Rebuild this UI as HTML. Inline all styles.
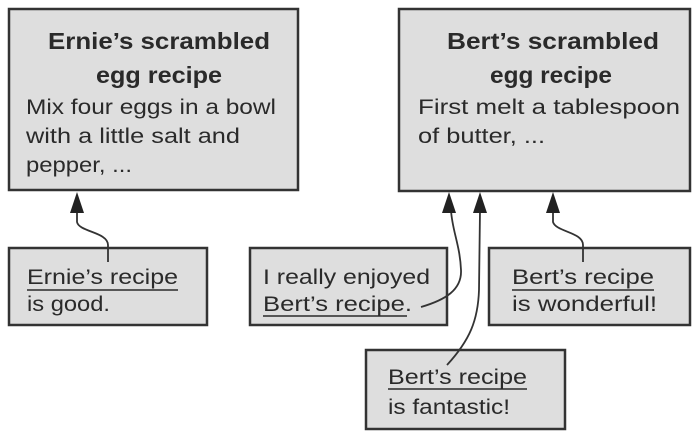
<!DOCTYPE html>
<html><head><meta charset="utf-8"><style>
html,body{margin:0;padding:0;background:#fff;}
svg{display:block;}
text{font-family:"Liberation Sans",sans-serif;fill:#2a2a2a;}
.t{font-weight:bold;font-size:23px;}
.b{font-size:21px;}
</style></head><body>
<svg width="698" height="440" viewBox="0 0 698 440">
<g fill="#dedede" stroke="#333" stroke-width="2.5">
<rect x="9" y="9" width="289" height="181"/>
<rect x="399" y="9" width="291" height="182"/>
<rect x="9" y="248" width="198" height="77"/>
<rect x="250" y="248" width="197" height="77"/>
<rect x="489" y="248" width="201" height="77"/>
<rect x="366" y="350" width="199" height="79"/>
</g>
<text class="t" x="48" y="49" textLength="222" lengthAdjust="spacingAndGlyphs">Ernie’s scrambled</text>
<text class="t" x="96" y="83" textLength="126" lengthAdjust="spacingAndGlyphs">egg recipe</text>
<text class="b" x="26" y="114" textLength="250" lengthAdjust="spacingAndGlyphs">Mix four eggs in a bowl</text>
<text class="b" x="26" y="143" textLength="214" lengthAdjust="spacingAndGlyphs">with a little salt and</text>
<text class="b" x="26" y="172" textLength="106" lengthAdjust="spacingAndGlyphs">pepper, ...</text>
<text class="t" x="447" y="49" textLength="212" lengthAdjust="spacingAndGlyphs">Bert’s scrambled</text>
<text class="t" x="490" y="83" textLength="122" lengthAdjust="spacingAndGlyphs">egg recipe</text>
<text class="b" x="418" y="114" textLength="262" lengthAdjust="spacingAndGlyphs">First melt a tablespoon</text>
<text class="b" x="418" y="143" textLength="127" lengthAdjust="spacingAndGlyphs">of butter, ...</text>

<text class="b" x="27" y="284" textLength="151" lengthAdjust="spacingAndGlyphs">Ernie’s recipe</text>
<text class="b" x="27" y="311" textLength="83" lengthAdjust="spacingAndGlyphs">is good.</text>
<text class="b" x="263" y="284" textLength="167" lengthAdjust="spacingAndGlyphs">I really enjoyed</text>
<text class="b" x="263" y="311" textLength="149" lengthAdjust="spacingAndGlyphs">Bert’s recipe.</text>
<text class="b" x="512" y="284" textLength="142" lengthAdjust="spacingAndGlyphs">Bert’s recipe</text>
<text class="b" x="512" y="311" textLength="145" lengthAdjust="spacingAndGlyphs">is wonderful!</text>
<text class="b" x="388" y="384" textLength="139" lengthAdjust="spacingAndGlyphs">Bert’s recipe</text>
<text class="b" x="388" y="414" textLength="122" lengthAdjust="spacingAndGlyphs">is fantastic!</text>

<g stroke="#2a2a2a" stroke-width="1.6">
<line x1="27" y1="290" x2="178" y2="290"/>
<line x1="263" y1="316" x2="407" y2="316"/>
<line x1="512" y1="290" x2="654" y2="290"/>
<line x1="388" y1="389" x2="527" y2="389"/>
</g>
<g fill="none" stroke="#333" stroke-width="1.8">
<path d="M108,262 L108,245 C108,232 79,232 77,222 L77,210"/>
<path d="M421,307 C445,300 462,290 461,270 C460,245 452,230 451,210"/>
<path d="M447,365 C470,340 478,320 479,290 L480,210"/>
<path d="M583,262 L583,245 C583,232 556,232 553,222 L553,210"/>
</g>
<g fill="#222">
<polygon points="77,192 70,213 84,213"/>
<polygon points="449,192 442,213 456,213"/>
<polygon points="480,192 473,213 487,213"/>
<polygon points="553,192 546,213 560,213"/>
</g>
</svg>
</body></html>
